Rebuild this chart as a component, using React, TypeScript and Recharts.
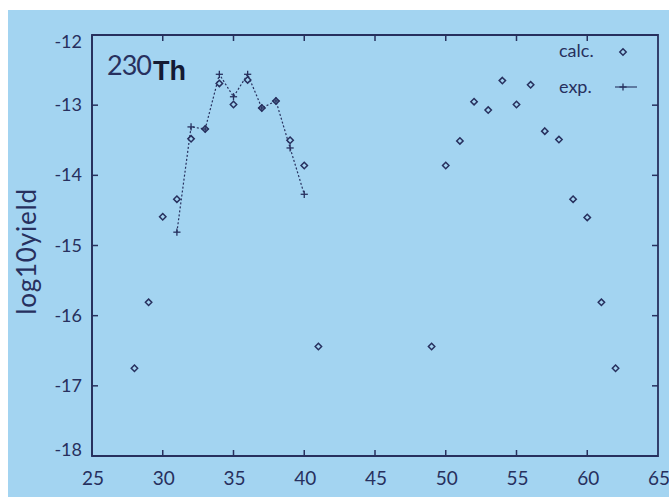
import React from 'react';
import { ComposedChart, Line, Scatter, XAxis, YAxis, ReferenceArea, Legend } from 'recharts';

// Fragment mass numbers and log10 yields for 230Th
const calcMass = [28, 29, 30, 31, 32, 33, 34, 35, 36, 37, 38, 39, 40, 41, 49, 50, 51, 52, 53, 54, 55, 56, 57, 58, 59, 60, 61, 62];
const calcYield = [-16.75, -15.81, -14.59, -14.34, -13.48, -13.34, -12.69, -12.99, -12.64, -13.04, -12.94, -13.5, -13.86, -16.44, -16.44, -13.86, -13.51, -12.95, -13.07, -12.65, -12.99, -12.71, -13.37, -13.49, -14.34, -14.6, -15.81, -16.75];
const expMass = [31, 32, 33, 34, 35, 36, 37, 38, 39, 40];
const expYield = [-14.81, -13.31, -13.34, -12.56, -12.88, -12.56, -13.04, -12.94, -13.61, -14.27];
const xTicks = [25, 30, 35, 40, 45, 50, 55, 60, 65];
const yTicks = [-18, -17, -16, -15, -14, -13, -12];
const seriesNames = ['calc.', 'exp.'];

const calcData = calcMass.map((a, i) => ({ a, v: calcYield[i] }));
const expData = expMass.map((a, i) => ({ a, v: expYield[i] }));

const W = 661;
const H = 487;
const MARGIN = { top: 25, right: 11, bottom: 0, left: 0 };
const Y_AXIS_W = 84;
const X_AXIS_H = 41;
const PLOT_TOP = MARGIN.top;
const PLOT_RIGHT = W - MARGIN.right;

const INK = '#27305e';
const BG = '#a3d4f1';
const FONT = 'Lato, "DejaVu Sans", sans-serif';

const Diamond = (props: any) => {
  const { cx, cy } = props;
  if (cx == null || cy == null) return null;
  const r = 3.2;
  return (
    <path
      d={`M${cx},${cy - r}L${cx + r},${cy}L${cx},${cy + r}L${cx - r},${cy}Z`}
      fill={BG}
      stroke={INK}
      strokeWidth={1.5}
    />
  );
};

const Plus = (props: any) => {
  const { cx, cy } = props;
  if (cx == null || cy == null) return null;
  const r = 3.6;
  return (
    <g stroke={INK} strokeWidth={1.3}>
      <line x1={cx - r} y1={cy} x2={cx + r} y2={cy} />
      <line x1={cx} y1={cy - r} x2={cx} y2={cy + r} />
    </g>
  );
};

// Bottom axis label plus inward tick marks on the bottom and top frame edges
const BottomTick = (props: any) => {
  const { x, y, payload } = props;
  const v = payload.value;
  const inner = v !== xTicks[0] && v !== xTicks[xTicks.length - 1];
  return (
    <g>
      <text x={x + 1} y={y + 29} textAnchor="middle" fill={INK} fontFamily={FONT} fontSize={19}>
        {v}
      </text>
      {inner && (
        <g stroke={INK} strokeWidth={1.5}>
          <line x1={x} y1={y} x2={x} y2={y - 6} />
          <line x1={x} y1={PLOT_TOP} x2={x} y2={PLOT_TOP + 6} />
        </g>
      )}
    </g>
  );
};

// Left axis label plus inward tick marks on the left and right frame edges
const LeftTick = (props: any) => {
  const { x, y, payload } = props;
  const v = payload.value;
  const first = v === yTicks[0];
  const last = v === yTicks[yTicks.length - 1];
  // end labels sit just inside the frame
  const nudge = last ? 7 : first ? -6 : 0;
  return (
    <g>
      <text x={x - 10} y={y + 6 + nudge} textAnchor="end" fill={INK} fontFamily={FONT} fontSize={18}>
        {v}
      </text>
      {!first && !last && (
        <g stroke={INK} strokeWidth={1.5}>
          <line x1={x} y1={y} x2={x + 6} y2={y} />
          <line x1={PLOT_RIGHT} y1={y} x2={PLOT_RIGHT - 6} y2={y} />
        </g>
      )}
    </g>
  );
};

const YTitle = (props: any) => {
  const vb = props.viewBox || { x: 0, y: 0, width: 0, height: 0 };
  const cx = vb.x + 18;
  const cy = vb.y + vb.height / 2 + 6;
  return (
    <text
      x={cx}
      y={cy}
      transform={`rotate(-90 ${cx} ${cy})`}
      textAnchor="middle"
      dominantBaseline="central"
      fill={INK}
      fontFamily={FONT}
      fontSize={26}
      letterSpacing={0.8}
    >
      log10yield
    </text>
  );
};

const KeyBox = (props: any) => {
  const payload = (props.payload || []).slice().sort(
    (p: any, q: any) => seriesNames.indexOf(p.value) - seriesNames.indexOf(q.value)
  );
  return (
    <svg width={110} height={80} style={{ overflow: 'visible', display: 'block' }}>
      {payload.map((entry: any, i: number) => {
        const cy = 14 + i * 36;
        const isLine = entry.value === 'exp.';
        return (
          <g key={entry.value}>
            <text x={6} y={cy + 5} fill={INK} fontFamily={FONT} fontSize={18}>
              {entry.value}
            </text>
            {isLine ? (
              <g>
                <line x1={62} y1={cy - 1} x2={84} y2={cy - 1} stroke={INK} strokeWidth={1.1} />
                <Plus cx={70} cy={cy - 1} />
              </g>
            ) : (
              <Diamond cx={70} cy={cy} />
            )}
          </g>
        );
      })}
    </svg>
  );
};

export default function App() {
  return (
    <div
      style={{
        position: 'absolute',
        left: 8,
        top: 10,
        width: W,
        height: H,
        background: BG,
        overflow: 'hidden',
      }}
    >
      <ComposedChart width={W} height={H} margin={MARGIN}>
        <XAxis
          type="number"
          dataKey="a"
          domain={[25, 65]}
          ticks={xTicks}
          allowDataOverflow
          height={X_AXIS_H}
          axisLine={{ stroke: INK, strokeWidth: 1.8 }}
          tickLine={false}
          tickSize={0}
          tickMargin={0}
          tick={<BottomTick />}
          interval={0}
        />
        <YAxis
          type="number"
          dataKey="v"
          domain={[-18, -12]}
          ticks={yTicks}
          allowDataOverflow
          width={Y_AXIS_W}
          axisLine={{ stroke: INK, strokeWidth: 1.8 }}
          tickLine={false}
          tickSize={0}
          tickMargin={0}
          tick={<LeftTick />}
          interval={0}
          label={<YTitle />}
        />
        {/* frame around the whole plotting region */}
        <ReferenceArea
          x1={25}
          x2={65}
          y1={-18}
          y2={-12}
          fill="none"
          fillOpacity={0}
          stroke={INK}
          strokeWidth={1.8}
          strokeOpacity={1}
        />
        <Line
          name="exp."
          data={expData}
          dataKey="v"
          type="linear"
          stroke={INK}
          strokeWidth={1.2}
          strokeDasharray="2 2"
          dot={<Plus />}
          activeDot={false}
          isAnimationActive={false}
        />
        <Scatter
          name="calc."
          data={calcData}
          dataKey="v"
          fill={INK}
          shape={<Diamond />}
          isAnimationActive={false}
        />
        <Legend
          layout="horizontal"
          align="center"
          verticalAlign="middle"
          content={<KeyBox />}
          wrapperStyle={{ position: 'absolute', left: 545, top: 28, width: 110, height: 80 }}
        />
      </ComposedChart>
      <svg
        width={W}
        height={H}
        style={{ position: 'absolute', left: 0, top: 0, pointerEvents: 'none' }}
      >
        <text x={99} y={65} fill={INK} fontFamily={FONT} fontSize={27} letterSpacing={-1}>
          230
        </text>
        <text x={145} y={70} fill="#141a33" fontFamily='"Liberation Sans", Arial, sans-serif' fontWeight="bold" fontSize={27}>
          Th
        </text>
      </svg>
    </div>
  );
}
